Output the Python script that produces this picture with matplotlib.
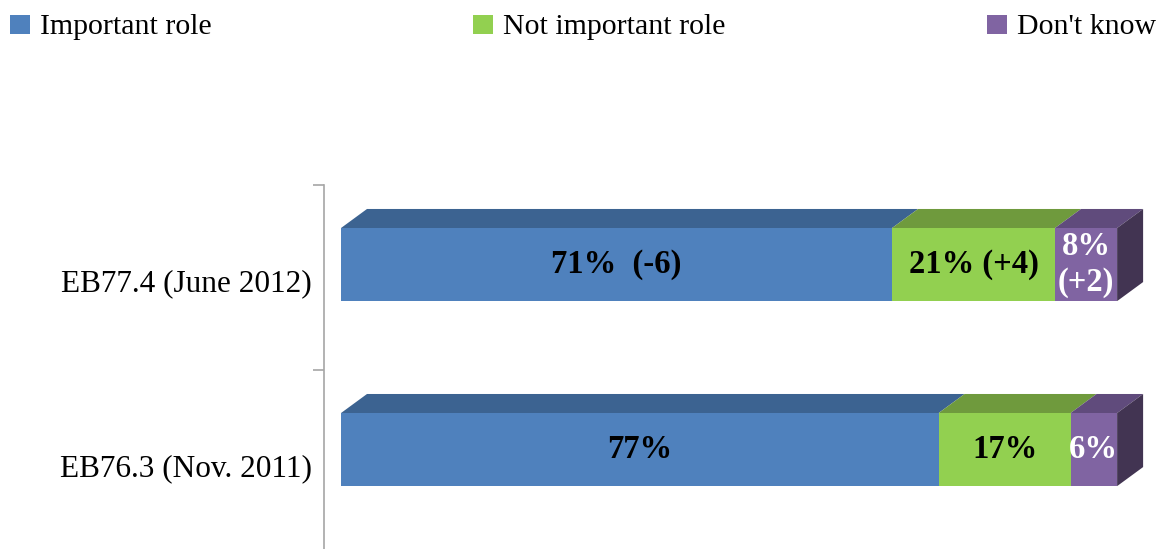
import numpy as np
import matplotlib.pyplot as plt
from matplotlib.patches import Polygon, Rectangle

# --- data ---
waves = ["EB76.3 (Nov. 2011)", "EB77.4 (June 2012)"]
important = [77, 71]
not_important = [17, 21]
dont_know = [6, 8]
series_names = ["Important role", "Not important role", "Don't know"]
labels_important = ["77%", "71%  (-6)"]
labels_not_important = ["17%", "21% (+4)"]
labels_dont_know = ["6%", "8%\n(+2)"]

# --- style ---
FRONT = ["#4F81BD", "#92D050", "#8064A2"]
TOP = ["#3C6391", "#6F9A3D", "#604B7C"]
SIDE = "#423452"
TXT = ["black", "black", "white"]
SERIF = ["Liberation Serif", "DejaVu Serif"]

BAR_H = 0.395      # front face height (category units)
BAR_SHIFT = 0.07   # 3d box sits a bit above category centre
DX, DY = 3.35, 0.103  # depth offset

fig = plt.figure(figsize=(11.66, 5.49), dpi=100)
ax = fig.add_axes([324 / 1166, -0.011, 842 / 1166, 0.674])
ax.set_xlim(-2.19, 106.3)
ax.set_ylim(-0.5, 1.5)

ypos = np.arange(len(waves))
segs = [important, not_important, dont_know]
seg_labels = [labels_important, labels_not_important, labels_dont_know]

left = np.zeros(len(waves))
for k, vals in enumerate(segs):
    vals = np.array(vals, dtype=float)
    yc = ypos + BAR_SHIFT
    ax.barh(yc, vals, left=left, height=BAR_H, color=FRONT[k], linewidth=0, zorder=3)
    for i in range(len(waves)):
        l, w = left[i], vals[i]
        top = yc[i] + BAR_H / 2
        bot = yc[i] - BAR_H / 2
        ax.add_patch(Polygon([(l, top), (l + w, top), (l + w + DX, top + DY), (l + DX, top + DY)],
                             closed=True, facecolor=TOP[k], linewidth=0, zorder=2))
        if k == len(segs) - 1:
            r = l + w
            ax.add_patch(Polygon([(r, bot), (r + DX, bot + DY), (r + DX, top + DY), (r, top)],
                                 closed=True, facecolor=SIDE, linewidth=0, zorder=2))
        ax.text(l + w / 2, yc[i], seg_labels[k][i], ha="center", va="center",
                fontsize=23.5, fontweight="bold", color=TXT[k], family=SERIF,
                linespacing=1.2, zorder=5)
    left = left + vals

# axis: only the left spine with boundary ticks
for s in ["top", "right", "bottom"]:
    ax.spines[s].set_visible(False)
ax.spines["left"].set_color("#A6A6A6")
ax.spines["left"].set_linewidth(1.2)
ax.set_xticks([])
ax.set_yticks(ypos - 0.015)
ax.set_yticklabels(waves, family=SERIF, fontsize=22.5)
ax.tick_params(axis="y", which="major", length=0, pad=9)
ax.set_yticks([0.5, 1.5], minor=True)
ax.tick_params(axis="y", which="minor", length=8, color="#A6A6A6", width=1.2)
ax.patch.set_alpha(0)

# legend across the top
leg_x = [10, 473, 987]
for k, name in enumerate(series_names):
    fig.patches.append(Rectangle((leg_x[k] / 1166, 1 - 34 / 549), 20 / 1166, 19 / 549,
                                 transform=fig.transFigure, facecolor=FRONT[k], linewidth=0))
    fig.text((leg_x[k] + 30) / 1166, 1 - 27 / 549, name, ha="left", va="center",
             family=SERIF, fontsize=21.5)

fig.savefig("out.png", dpi=100)
